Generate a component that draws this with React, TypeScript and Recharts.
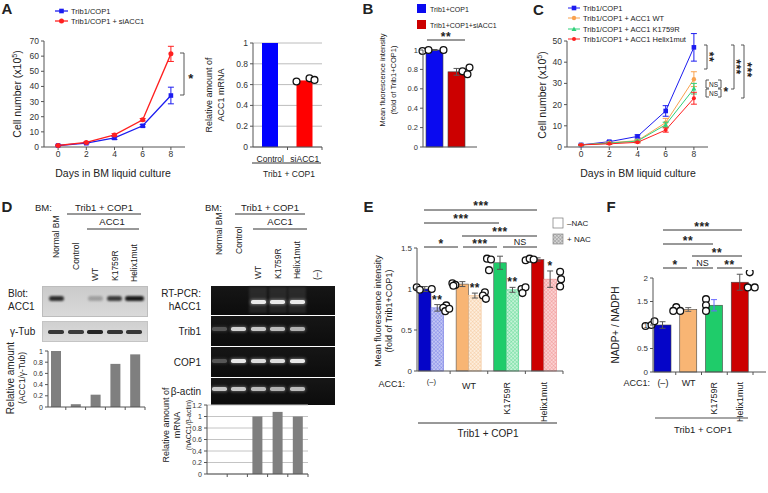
import React from 'react';
import { LineChart, Line, BarChart, Bar, XAxis, YAxis, CartesianGrid } from 'recharts';

const FONT = "'Liberation Sans', Arial, Helvetica, sans-serif";
const INK = '#222';
const AX = '#555';

// ---------------- Data ----------------
const days = [0, 2, 4, 6, 8];
const cellTicksA = [0, 10, 20, 30, 40, 50, 60, 70];
const aTrib = [1, 2.5, 6, 14, 34];
const aTribErr = [0.3, 0.4, 1.0, 0.8, 5.5];
const aSi = [1, 3, 8, 18, 61.5];
const aSiErr = [0.3, 0.4, 0.8, 0.8, 5];

const mrnaCats = ['Control', 'siACC1'];
const mrnaVals = [1, 0.64];
const mrnaReps = [[], [0.63, 0.66, 0.645]];
const fracTicks = [0, 0.2, 0.4, 0.6, 0.8, 1];

const bCats = ['Trib1+COP1', 'Trib1+COP1+siACC1'];
const bVals = [1, 0.775];
const bErr = [0.005, 0.035];
const bReps = [[0.99, 1.0, 1.0], [0.78, 0.82, 0.75]];

const cellTicksC = [0, 10, 20, 30, 40, 50];
const cTrib = [1, 2.5, 5, 17, 47];
const cTribErr = [0.3, 0.4, 0.7, 2.5, 6.5];
const cWT = [1, 2, 3, 11.5, 32];
const cWTErr = [0.2, 0.3, 0.5, 2, 3.5];
const cK = [1, 1.8, 2.8, 10.5, 27.5];
const cKErr = [0.2, 0.3, 0.4, 1.2, 2.5];
const cHelix = [1, 1.5, 2.2, 8, 23];
const cHelixErr = [0.2, 0.3, 0.3, 1, 2.8];

const blotLanes = ['Normal BM', 'Control', 'WT', 'K1759R', 'Helix1mut'];
const acc1Band = [0.85, 0, 0.25, 0.78, 0.95];
const tubBand = [0.8, 0.78, 0.9, 0.82, 0.8];
const acc1Ratio = [1, 0.05, 0.22, 0.77, 0.94];

const gelLanes = ['Normal BM', 'Control', 'WT', 'K1759R', 'Helix1mut', '(–)'];
const hAcc1Band = [0, 0, 0.95, 0.95, 0.95, 0];
const trib1Band = [0.3, 0.85, 0.8, 0.75, 0.7, 0];
const cop1Band = [0.3, 0.95, 0.9, 0.9, 0.95, 0];
const actinBand = [0.8, 0.8, 0.75, 0.7, 0.75, 0];
const mrnaRatio = [0, 0, 1.0, 1.08, 1.0];
const mrnaTicks = [0, 0.2, 0.4, 0.6, 0.8, 1, 1.2];

const accCats = ['(–)', 'WT', 'K1759R', 'Helix1mut'];
const eTicks = [0, 0.5, 1, 1.5];
const eMinus = [1.0, 1.06, 1.32, 1.36];
const eMinusErr = [0.03, 0.03, 0.08, 0.02];
const ePlus = [0.77, 0.92, 0.99, 1.12];
const ePlusErr = [0.04, 0.03, 0.03, 0.1];
const eMinusReps = [[1.02, 0.99, 1.0], [1.07, 1.05, 1.04], [1.37, 1.36, 1.23], [1.35, 1.37, 1.36]];
const ePlusReps = [[0.8, 0.77, 0.73, 0.76], [0.96, 0.92, 0.88], [1.0, 1.02, 0.95], [1.21, 1.12, 1.03]];
const ePlusSig = ['**', '**', '**', '*'];

const fTicks = [0, 0.5, 1, 1.5, 2];
const fVals = [1.0, 1.33, 1.42, 1.91];
const fErr = [0.07, 0.04, 0.12, 0.17];
const fReps = [[0.98, 1.0, 1.08], [1.38, 1.3, 1.3], [1.55, 1.42, 1.3], [2.12, 1.8, 1.8]];

// ---------------- Styling constants ----------------
const BLUE = '#1c1cf0';
const RED = '#ff2020';
const C_ORANGE = '#f9a24e';
const C_GREEN = '#2fd07a';
const SOLID = ['#0505c8', '#f8b574', '#1fcc6a', '#cc0000'];
const LIGHT = ['#c3c7f5', '#fdeedd', '#c4f3d6', '#fbd2d2'];
const MESH = ['#6d74e3', '#f3c08e', '#49d488', '#ec8585'];
const MRNA_FILL = ['#0000ff', '#ff0000'];
const B_FILL = ['#0a0af0', '#cc0000'];
const MRNA_DX = [[], [-8, 5, 10]];
const B_DX = [[-12, -6, 9], [6, 13, 11]];
const E_MINUS_DX = [[-8, -5, 7], [-10, -7, -9], [-13, -9, -11], [-12, -8, -4]];
const E_PLUS_DX = [[9, 6, 8, 12], [10, 8, 11], [9, 13, 10], [10, 11, 10]];
const F_DX = [[-17, -11, -8], [-12, -15, -8], [-8, -8, -8], [10, 8, 15]];
const F_ERR_COL = ['#555', '#666', '#6a6aff', '#555'];

// ---------------- Tables ----------------
const aTable = days.map((d, i) => ({ day: d, trib: aTrib[i], si: aSi[i] }));
const cTable = days.map((d, i) => ({ day: d, trib: cTrib[i], wt: cWT[i], k: cK[i], helix: cHelix[i] }));
const mrnaTable = mrnaCats.map((c, i) => ({ cat: c, idx: i, v: mrnaVals[i] }));
const bTable = bCats.map((c, i) => ({ cat: c, idx: i, v: bVals[i] }));
const blotTable = blotLanes.map((l, i) => ({ lane: l, idx: i, v: acc1Ratio[i] }));
const gelTable = blotLanes.map((l, i) => ({ lane: l, idx: i, v: mrnaRatio[i] }));
const eTable = accCats.map((c, i) => ({ cat: c, idx: i, minus: eMinus[i], plus: ePlus[i] }));
const fTable = accCats.map((c, i) => ({ cat: c, idx: i, v: fVals[i] }));

const tickStyle = (s: number) => ({ fontSize: s, fill: '#333', fontFamily: FONT });

// y-axis tick label drawn at the position the axis supplies
const yTick = (fs: number) => (p: any) => (
  <text x={p.x} y={p.y} fontSize={fs} textAnchor="end" dominantBaseline="central" fill="#333" fontFamily={FONT}>
    {String(p.payload.value)}
  </text>
);

// ---------------- Marks helpers ----------------
const ErrBar = ({ cx, top, e, color = '#555', cap = 3 }: any) =>
  e > 0.4 ? (
    <g stroke={color} strokeWidth={1}>
      <line x1={cx} x2={cx} y1={top - e} y2={top + e} />
      <line x1={cx - cap} x2={cx + cap} y1={top - e} y2={top - e} />
      <line x1={cx - cap} x2={cx + cap} y1={top + e} y2={top + e} />
    </g>
  ) : null;

const Circles = ({ cx, base, ppu, reps, dx }: any) => (
  <g>
    {reps.map((v: number, k: number) => (
      <circle key={k} cx={cx + (dx[k] || 0)} cy={base - v * ppu} r={3.4} fill="#fff" stroke="#111" strokeWidth={1.3} />
    ))}
  </g>
);

const makeDot = (kind: string, color: string, errs: number[], plotBottom: number, size: number) => (p: any) => {
  const { cx, cy, value, index } = p;
  if (cx == null || cy == null) return <g key={`d${index}`} />;
  const ppu = value ? (plotBottom - cy) / value : 0;
  const e = (errs[index] || 0) * ppu;
  const s = size;
  let m: any;
  if (kind === 'square') m = <rect x={cx - s / 2} y={cy - s / 2} width={s} height={s} fill={color} />;
  else if (kind === 'triangle')
    m = <polygon points={`${cx},${cy - s / 2 - 0.5} ${cx - s / 2 - 0.3},${cy + s / 2 - 0.3} ${cx + s / 2 + 0.3},${cy + s / 2 - 0.3}`} fill={color} />;
  else m = <circle cx={cx} cy={cy} r={s / 2} fill={color} />;
  return (
    <g key={`d${index}`}>
      <ErrBar cx={cx} top={cy} e={e} color={color} cap={3} />
      {m}
    </g>
  );
};

const simpleBarShape = (cfg: any) => (p: any) => {
  const { x, y, width, height, payload } = p;
  const i = payload.idx;
  const v = payload.v;
  const ppu = v ? height / v : 0;
  const base = y + height;
  const cx = x + width / 2;
  const e = cfg.errs ? cfg.errs[i] * ppu : 0;
  return (
    <g>
      <rect x={x} y={y} width={width} height={height} fill={cfg.fills[i]} stroke={cfg.stroke || 'none'} strokeWidth={cfg.stroke ? 0.6 : 0} />
      {cfg.errs && <ErrBar cx={cx} top={y} e={e} color={cfg.errColors ? cfg.errColors[i] : '#555'} cap={3} />}
      {cfg.reps && <Circles cx={cx} base={base} ppu={ppu} reps={cfg.reps[i]} dx={cfg.dx[i]} />}
    </g>
  );
};

const eMinusShape = (p: any) => {
  const { x, y, width, height, payload } = p;
  const i = payload.idx;
  const ppu = height / payload.minus;
  return (
    <g>
      <rect x={x} y={y} width={width} height={height} fill={SOLID[i]} stroke="#555" strokeWidth={0.6} />
      <ErrBar cx={x + width / 2} top={y} e={eMinusErr[i] * ppu} color="#555" cap={3} />
    </g>
  );
};

const ePlusShape = (p: any) => {
  const { x, y, width, height, payload } = p;
  const i = payload.idx;
  const ppu = height / payload.plus;
  const base = y + height;
  const cxP = x + width / 2;
  const cxM = cxP - width;
  const eP = ePlusErr[i] * ppu;
  const pid = `hatchE${i}`;
  return (
    <g>
      <defs>
        <pattern id={pid} width="2.6" height="2.6" patternUnits="userSpaceOnUse" patternTransform="rotate(45)">
          <rect width="2.6" height="2.6" fill={LIGHT[i]} />
          <line x1="0" y1="0" x2="0" y2="2.6" stroke={MESH[i]} strokeWidth="0.7" />
          <line x1="0" y1="0" x2="2.6" y2="0" stroke={MESH[i]} strokeWidth="0.7" />
        </pattern>
      </defs>
      <rect x={x} y={y} width={width} height={height} fill={`url(#${pid})`} stroke={MESH[i]} strokeWidth={0.6} />
      <ErrBar cx={cxP} top={y} e={eP} color="#555" cap={3} />
      <text x={cxP} y={y - eP - 1} fontSize={12} fontWeight="bold" textAnchor="middle" fill={INK} fontFamily={FONT} letterSpacing={0.5}>
        {ePlusSig[i]}
      </text>
      <Circles cx={cxM} base={base} ppu={ppu} reps={eMinusReps[i]} dx={E_MINUS_DX[i]} />
      <Circles cx={cxP} base={base} ppu={ppu} reps={ePlusReps[i]} dx={E_PLUS_DX[i]} />
    </g>
  );
};

// ---------------- X ticks ----------------
const boundaryTick = (band: number) => (p: any) => {
  const { x, y } = p;
  return <line x1={x + band / 2} x2={x + band / 2} y1={y} y2={y + 3} stroke={AX} />;
};

const labelTick = (band: number, dy: number, fs: number) => (p: any) => {
  const { x, y, payload } = p;
  return (
    <g>
      <line x1={x + band / 2} x2={x + band / 2} y1={y} y2={y + 3} stroke={AX} />
      <text x={x} y={y + dy} fontSize={fs} textAnchor="middle" dominantBaseline="central" fill={INK} fontFamily={FONT}>
        {payload.value}
      </text>
    </g>
  );
};

const accTick = (band: number, dSmall: number, dWT: number, dRot: number, fs: number, smallFs: number) => (p: any) => {
  const { x, y, payload, index } = p;
  const v = String(payload.value);
  const bx = x + band / 2;
  let label: any;
  if (index === 0)
    label = <text x={x} y={y + dSmall} fontSize={smallFs} textAnchor="middle" dominantBaseline="central" fill={INK} fontFamily={FONT}>{v}</text>;
  else if (index === 1)
    label = <text x={x} y={y + dWT} fontSize={fs} textAnchor="middle" dominantBaseline="central" fill={INK} fontFamily={FONT}>{v}</text>;
  else
    label = (
      <text x={x} y={y + dRot} fontSize={fs} textAnchor="end" dominantBaseline="central" fill={INK} fontFamily={FONT}
        transform={`rotate(-90 ${x} ${y + dRot})`}>{v}</text>
    );
  return (
    <g>
      <line x1={bx} x2={bx} y1={y} y2={y + 3} stroke={AX} />
      {label}
    </g>
  );
};

// ---------------- Charts ----------------
const ChartA1 = () => (
  <LineChart width={200} height={132} data={aTable} margin={{ top: 11, right: 15, bottom: 0, left: 0 }}>
    <XAxis dataKey="day" type="number" domain={[-1, 9]} ticks={[0, 2, 4, 6, 8]} interval={0} height={15} tickSize={3} tickMargin={1} tick={tickStyle(8.5)} stroke={AX} />
    <YAxis type="number" domain={[0, 70]} ticks={cellTicksA} interval={0} width={44} tickSize={3} tickMargin={2} tick={yTick(8.5)} stroke={AX} />
    <Line dataKey="trib" stroke={BLUE} strokeWidth={1.3} dot={makeDot('square', BLUE, aTribErr, 117, 4.6)} activeDot={false} isAnimationActive={false} />
    <Line dataKey="si" stroke={RED} strokeWidth={1.3} dot={makeDot('circle', RED, aSiErr, 117, 5)} activeDot={false} isAnimationActive={false} />
  </LineChart>
);

const ChartA2 = () => (
  <BarChart width={126} height={135} data={mrnaTable} margin={{ top: 13, right: 4, bottom: 0, left: 0 }} barSize={16}>
    <CartesianGrid vertical={false} stroke="#bcbcbc" />
    <XAxis dataKey="cat" height={18} tickLine={false} tickSize={0} tickMargin={0} tick={labelTick(34.5, 12, 8.5)} stroke={AX} interval={0} />
    <YAxis type="number" domain={[0, 1]} ticks={fracTicks} interval={0} width={53} tickSize={3} tickMargin={2} tick={yTick(8.5)} stroke={AX} />
    <Bar dataKey="v" isAnimationActive={false} shape={simpleBarShape({ fills: MRNA_FILL, reps: mrnaReps, dx: MRNA_DX })} />
  </BarChart>
);

const ChartB = () => (
  <BarChart width={140} height={127} data={bTable} margin={{ top: 20, right: 3, bottom: 0, left: 0 }} barSize={17}>
    <XAxis dataKey="cat" height={10} tick={false} tickLine={false} stroke={AX} padding={{ left: 0, right: 10 }} />
    <YAxis type="number" domain={[0, 1]} ticks={fracTicks} interval={0} width={83} tickSize={3} tickMargin={2} tick={yTick(7.5)} stroke={AX} />
    <Bar dataKey="v" isAnimationActive={false} shape={simpleBarShape({ fills: B_FILL, errs: bErr, reps: bReps, dx: B_DX, stroke: '#444' })} />
  </BarChart>
);

const ChartC = () => (
  <LineChart width={200} height={132} data={cTable} margin={{ top: 11, right: 12, bottom: 0, left: 0 }}>
    <XAxis dataKey="day" type="number" domain={[-1, 9]} ticks={[0, 2, 4, 6, 8]} interval={0} height={15} tickSize={3} tickMargin={1} tick={tickStyle(8.5)} stroke={AX} />
    <YAxis type="number" domain={[0, 50]} ticks={cellTicksC} interval={0} width={47} tickSize={3} tickMargin={2} tick={yTick(8.5)} stroke={AX} />
    <Line dataKey="trib" stroke={BLUE} strokeWidth={1} dot={makeDot('square', BLUE, cTribErr, 117, 4.6)} activeDot={false} isAnimationActive={false} />
    <Line dataKey="wt" stroke={C_ORANGE} strokeWidth={1} dot={makeDot('circle', C_ORANGE, cWTErr, 117, 4.4)} activeDot={false} isAnimationActive={false} />
    <Line dataKey="k" stroke={C_GREEN} strokeWidth={1} dot={makeDot('triangle', C_GREEN, cKErr, 117, 4.4)} activeDot={false} isAnimationActive={false} />
    <Line dataKey="helix" stroke={RED} strokeWidth={1} dot={makeDot('circle', RED, cHelixErr, 117, 4)} activeDot={false} isAnimationActive={false} />
  </LineChart>
);

const ChartDBlot = () => (
  <BarChart width={150} height={70} data={blotTable} margin={{ top: 6, right: 5, bottom: 0, left: 0 }} barSize={10}>
    <XAxis dataKey="lane" height={8} tickLine={false} tickSize={0} tickMargin={0} tick={boundaryTick(19.8)} stroke={AX} padding={{ left: -2, right: 0 }} interval={0} />
    <YAxis type="number" domain={[0, 1]} ticks={fracTicks} interval={0} width={48} tickSize={3} tickMargin={2} tick={yTick(7)} stroke={AX} />
    <Bar dataKey="v" fill="#7f7f7f" isAnimationActive={false} />
  </BarChart>
);

const ChartDGel = () => (
  <BarChart width={152} height={84} data={gelTable} margin={{ top: 7, right: 4, bottom: 0, left: 0 }} barSize={10}>
    <CartesianGrid vertical={false} stroke="#c4c4c4" />
    <XAxis dataKey="lane" height={8} tickLine={false} tickSize={0} tickMargin={0} tick={boundaryTick(20.2)} stroke={AX} interval={0} />
    <YAxis type="number" domain={[0, 1.2]} ticks={mrnaTicks} interval={0} width={47} tickSize={3} tickMargin={2} tick={yTick(7)} stroke={AX} />
    <Bar dataKey="v" fill="#7f7f7f" isAnimationActive={false} />
  </BarChart>
);

const ChartE = () => (
  <BarChart width={210} height={190} data={eTable} margin={{ top: 8, right: 2, bottom: 0, left: 0 }} barSize={12.5} barGap={0}>
    <XAxis dataKey="cat" height={59} tickLine={false} tickSize={0} tickMargin={0} tick={accTick(37.6, 10, 15, 11, 9, 7.5)} stroke={AX} padding={{ left: -4.5, right: 0 }} interval={0} />
    <YAxis type="number" domain={[0, 1.5]} ticks={eTicks} interval={0} width={62} tickSize={3} tickMargin={2} tick={yTick(8)} stroke={AX} />
    <Bar dataKey="minus" isAnimationActive={false} shape={eMinusShape} />
    <Bar dataKey="plus" isAnimationActive={false} shape={ePlusShape} />
  </BarChart>
);

const ChartF = () => (
  <BarChart width={170} height={160} data={fTable} margin={{ top: 8, right: 2, bottom: 0, left: 0 }} barSize={17}>
    <XAxis dataKey="cat" height={58} tickLine={false} tickSize={0} tickMargin={0} tick={accTick(25.75, 11, 11, 10, 9, 9)} stroke={AX} padding={{ left: -3, right: 13 }} interval={0} />
    <YAxis type="number" domain={[0, 2]} ticks={fTicks} interval={0} width={55} tickSize={3} tickMargin={2} tick={yTick(8)} stroke={AX} />
    <Bar dataKey="v" isAnimationActive={false} shape={simpleBarShape({ fills: SOLID, errs: fErr, errColors: F_ERR_COL, reps: fReps, dx: F_DX, stroke: '#444' })} />
  </BarChart>
);

// ---------------- Blot / gel images ----------------
const laneL = (i: number) => 56 + 19.6 * i;
const laneR = (i: number) => 219 + 19.6 * i;

const Band = ({ cx, cy, w, h, color, op, blur, glow }: any) =>
  op > 0 ? (
    <div style={{ position: 'absolute', left: cx - w / 2, top: cy - h / 2, width: w, height: h, background: color, opacity: op, borderRadius: h / 2, filter: `blur(${blur}px)`, boxShadow: glow }} />
  ) : null;

const gelRows = [
  { top: 286, h: 29, band: hAcc1Band, cy: 302 },
  { top: 316, h: 30, band: trib1Band, cy: 329 },
  { top: 347, h: 30, band: cop1Band, cy: 361 },
  { top: 378, h: 27, band: actinBand, cy: 389 },
];

const Blots = () => (
  <>
    <div style={{ position: 'absolute', left: 42, top: 286, width: 106, height: 31, background: 'linear-gradient(#cbcbcb,#d9d9d9)', border: '1px solid #bdbdbd', boxSizing: 'border-box' }} />
    {acc1Band.map((op, i) => (
      <Band key={'acc' + i} cx={laneL(i)} cy={298.5} w={i === 4 ? 19 : 15} h={5} color="#111" op={op} blur={0.8} />
    ))}
    <div style={{ position: 'absolute', left: 42, top: 321, width: 106, height: 21, background: 'linear-gradient(#d0d0d0,#dcdcdc)', border: '1px solid #c4c4c4', boxSizing: 'border-box' }} />
    {tubBand.map((op, i) => (
      <Band key={'tub' + i} cx={laneL(i)} cy={332} w={16} h={3.5} color="#111" op={op} blur={0.6} />
    ))}
    {gelRows.map((row, r) => (
      <div key={'row' + r} style={{ position: 'absolute', left: 211, top: row.top, width: 124, height: row.h, background: 'linear-gradient(#161616,#0c0c0c)' }} />
    ))}
    {hAcc1Band.map((op, i) =>
      op > 0 ? (
        <div key={'smear' + i} style={{ position: 'absolute', left: laneR(i) - 9, top: 287, width: 18, height: 26, background: 'linear-gradient(#2c2c2c,#222)', filter: 'blur(0.8px)' }} />
      ) : null
    )}
    {gelRows.map((row, r) =>
      row.band.map((op, i) => (
        <Band key={`g${r}-${i}`} cx={laneR(i)} cy={row.cy} w={15} h={3.6} color="#f4f4f4" op={op} blur={0.5} glow="0 0 3px 1px rgba(255,255,255,0.35)" />
      ))
    )}
  </>
);

// ---------------- Overlay text / annotations ----------------
const T = ({ x, y, s = 9, a = 'middle', r = 0, b = false, fill = INK, children }: any) => (
  <text x={x} y={y} fontSize={s} textAnchor={a} dominantBaseline="central" fontWeight={b ? 'bold' : 'normal'} fill={fill}
    transform={r ? `rotate(${r} ${x} ${y})` : undefined}>{children}</text>
);

const Stars = ({ x, y, t, s = 12, r = 0 }: any) => {
  const off = 0.22 * s;
  const px = r ? x - off : x;
  const py = r ? y : y + off;
  return (
    <text x={px} y={py} fontSize={s} textAnchor="middle" dominantBaseline="central" fontWeight="bold" fill={INK} letterSpacing={0.5}
      transform={r ? `rotate(${r} ${px} ${py})` : undefined}>{t}</text>
  );
};

const HL = ({ x1, x2, y, c = '#333', w = 1 }: any) => <line x1={x1} x2={x2} y1={y} y2={y} stroke={c} strokeWidth={w} />;
const VB = ({ x, y1, y2, d = -3 }: any) => <path d={`M${x + d},${y1}H${x}V${y2}H${x + d}`} fill="none" stroke="#444" strokeWidth={0.9} />;

const LANE_BOTTOM_L = [258, 270, 281, 281, 282];
const LANE_BOTTOM_R = [255, 254, 279, 279, 279, 280];

const Overlay = () => (
  <svg width={768} height={493} style={{ position: 'absolute', left: 0, top: 0, pointerEvents: 'none' }} fontFamily={FONT}>
    <defs>
      <pattern id="legHatch" width="2.5" height="2.5" patternUnits="userSpaceOnUse" patternTransform="rotate(45)">
        <rect width="2.5" height="2.5" fill="#d6d6d6" />
        <line x1="0" y1="0" x2="0" y2="2.5" stroke="#888" strokeWidth="0.8" />
        <line x1="0" y1="0" x2="2.5" y2="0" stroke="#888" strokeWidth="0.8" />
      </pattern>
    </defs>

    {/* Panel A */}
    <T x={7} y={8.5} s={15} b>A</T>
    <line x1={55} x2={68} y1={11} y2={11} stroke={BLUE} strokeWidth={1.3} />
    <rect x={59.2} y={8.7} width={4.6} height={4.6} fill={BLUE} />
    <T x={71} y={11} s={7.5} a="start">Trib1/COP1</T>
    <line x1={55} x2={68} y1={21} y2={21} stroke={RED} strokeWidth={1.3} />
    <circle cx={61.5} cy={21} r={2.5} fill={RED} />
    <T x={71} y={21} s={7.5} a="start">Trib1/COP1 + siACC1</T>
    <text x={17} y={94} fontSize={10.5} textAnchor="middle" dominantBaseline="central" fill={INK} transform="rotate(-90 17 94)">
      Cell number (x10<tspan dy={-3.5} fontSize={7}>5</tspan><tspan dy={3.5}>)</tspan>
    </text>
    <T x={113} y={173} s={10.5}>Days in BM liquid culture</T>
    <VB x={184} y1={53} y2={95} d={-4} />
    <Stars x={191} y={76} t="*" s={13} />
    <T x={209} y={95} s={9} r={-90}>Relative amount of</T>
    <T x={221} y={95} s={9} r={-90}>ACC1 mRNA</T>
    <HL x1={252} x2={321} y={163} />
    <T x={289} y={174} s={8.5}>Trib1 + COP1</T>

    {/* Panel B */}
    <T x={368} y={8.5} s={15} b>B</T>
    <rect x={417} y={4} width={9} height={9} fill={B_FILL[0]} />
    <T x={430} y={9} s={7} a="start">Trib1+COP1</T>
    <rect x={417} y={20} width={9} height={9} fill={B_FILL[1]} />
    <T x={430} y={25} s={7} a="start">Trib1+COP1+siACC1</T>
    <T x={382} y={80} s={7.5} r={-90}>Mean fluorescence intensity</T>
    <T x={393} y={80} s={7.5} r={-90}>(fold of Trib1+COP1)</T>
    <HL x1={427} x2={465} y={40} />
    <Stars x={446} y={34} t="**" s={12} />

    {/* Panel C */}
    <T x={538.5} y={9} s={15} b>C</T>
    <line x1={568} x2={580} y1={8} y2={8} stroke={BLUE} />
    <rect x={571.7} y={5.7} width={4.6} height={4.6} fill={BLUE} />
    <T x={583} y={8} s={7.5} a="start">Trib1/COP1</T>
    <line x1={568} x2={580} y1={18} y2={18} stroke={C_ORANGE} />
    <circle cx={574} cy={18} r={2.2} fill={C_ORANGE} />
    <T x={583} y={18} s={7.5} a="start">Trib1/COP1 + ACC1 WT</T>
    <line x1={568} x2={580} y1={29} y2={29} stroke={C_GREEN} />
    <polygon points="574,26.5 571.5,31 576.5,31" fill={C_GREEN} />
    <T x={583} y={29} s={7.5} a="start">Trib1/COP1 + ACC1 K1759R</T>
    <line x1={568} x2={580} y1={39} y2={39} stroke={RED} />
    <circle cx={574} cy={39} r={2} fill={RED} />
    <T x={583} y={39} s={7.5} a="start">Trib1/COP1 + ACC1 Helix1mut</T>
    <text x={542} y={95} fontSize={10.5} textAnchor="middle" dominantBaseline="central" fill={INK} transform="rotate(-90 542 95)">
      Cell number (x10<tspan dy={-3.5} fontSize={7}>5</tspan><tspan dy={3.5}>)</tspan>
    </text>
    <T x={638} y={173} s={10.5}>Days in BM liquid culture</T>
    <VB x={707} y1={45} y2={69} d={-3} />
    <Stars x={712} y={57} t="**" s={12} r={90} />
    <VB x={706} y1={80} y2={88} d={3} />
    <T x={713.5} y={84} s={6.5}>NS</T>
    <VB x={721} y1={80} y2={88} d={-3} />
    <VB x={706} y1={89} y2={97} d={3} />
    <T x={713.5} y={93} s={6.5}>NS</T>
    <VB x={721} y1={89} y2={97} d={-3} />
    <Stars x={726} y={89} t="*" s={12} />
    <VB x={734} y1={45} y2={89} d={-3} />
    <Stars x={739} y={67} t="***" s={12} r={90} />
    <VB x={744} y1={45} y2={98} d={-3} />
    <Stars x={750} y={70} t="***" s={12} r={90} />

    {/* Panel D */}
    <T x={7} y={206.5} s={15} b>D</T>
    <T x={35} y={207} s={9.5} a="start">BM:</T>
    <T x={104} y={207} s={9.5}>Trib1 + COP1</T>
    <HL x1={67} x2={141} y={214} />
    <T x={112} y={221} s={9.5}>ACC1</T>
    <HL x1={87} x2={139} y={229} />
    {blotLanes.map((l, i) => (
      <T key={'ll' + i} x={laneL(i)} y={LANE_BOTTOM_L[i]} s={8.5} a="start" r={-90}>{l}</T>
    ))}
    <T x={8} y={293} s={10} a="start">Blot:</T>
    <T x={8} y={306} s={10} a="start">ACC1</T>
    <T x={10} y={331} s={10} a="start">γ-Tub</T>
    <T x={10} y={378} s={10} r={-90}>Relative amount</T>
    <T x={22} y={378} s={8.5} r={-90}>(ACC1/γ-Tub)</T>

    <T x={205} y={207} s={9.5} a="start">BM:</T>
    <T x={270} y={207} s={9.5}>Trib1 + COP1</T>
    <HL x1={235} x2={305} y={214} />
    <T x={280} y={221} s={9.5}>ACC1</T>
    <HL x1={253} x2={307} y={229} />
    {gelLanes.map((l, i) => (
      <T key={'gl' + i} x={laneR(i)} y={LANE_BOTTOM_R[i]} s={8.5} a="start" r={-90}>{l}</T>
    ))}
    <T x={201} y={293} s={10} a="end">RT-PCR:</T>
    <T x={201} y={306} s={10} a="end">hACC1</T>
    <T x={201} y={331} s={10} a="end">Trib1</T>
    <T x={201} y={362} s={10} a="end">COP1</T>
    <T x={201} y={391} s={10} a="end">β-actin</T>
    <T x={166} y={425} s={9} r={-90}>Relative amount of</T>
    <T x={177} y={425} s={9} r={-90}>mRNA</T>
    <T x={188} y={425} s={7} r={-90}>(hACC1/β-actin)</T>

    {/* Panel E */}
    <T x={368.5} y={206.5} s={15} b>E</T>
    <T x={378} y={311} s={9} r={-90}>Mean fluorescence intensity</T>
    <T x={389} y={311} s={9} r={-90}>(fold of Trib1+COP1)</T>
    <HL x1={424} x2={537} y={210} />
    <Stars x={481} y={203} t="***" s={12} />
    <HL x1={424} x2={499} y={223} />
    <Stars x={461} y={216.5} t="***" s={12} />
    <HL x1={462} x2={537} y={236} />
    <Stars x={500} y={229.5} t="***" s={12} />
    <HL x1={424} x2={458} y={247} />
    <Stars x={441} y={241} t="*" s={12} />
    <HL x1={463} x2={497} y={247} />
    <Stars x={480} y={241} t="***" s={12} />
    <HL x1={503} x2={537} y={247} />
    <T x={520} y={242} s={9}>NS</T>
    <rect x={553} y={218} width={10} height={10} fill="#fff" stroke="#777" strokeWidth={0.7} />
    <T x={567} y={223} s={8} a="start">–NAC</T>
    <rect x={553} y={234} width={10} height={10} fill="url(#legHatch)" stroke="#888" strokeWidth={0.7} />
    <T x={567} y={239} s={8} a="start">+ NAC</T>
    <T x={405} y={384} s={9} a="end">ACC1:</T>
    <HL x1={418} x2={557} y={423} />
    <T x={488} y={433} s={10}>Trib1 + COP1</T>

    {/* Panel F */}
    <T x={611} y={206.5} s={15} b>F</T>
    <T x={615} y={325} s={10} r={-90}>NADP+ / NADPH</T>
    <HL x1={663} x2={742} y={230} />
    <Stars x={702} y={224} t="***" s={12} />
    <HL x1={663} x2={713} y={244} />
    <Stars x={688} y={238} t="**" s={12} />
    <HL x1={692} x2={742} y={256} />
    <Stars x={717} y={250} t="**" s={12} />
    <HL x1={663} x2={687} y={268} />
    <Stars x={675} y={262.5} t="*" s={12} />
    <HL x1={692} x2={713} y={268} />
    <T x={702.5} y={263} s={9}>NS</T>
    <HL x1={717} x2={742} y={268} />
    <Stars x={729.5} y={262.5} t="**" s={12} />
    <T x={650} y={383} s={9} a="end">ACC1:</T>
    <HL x1={655} x2={748} y={418} c="#888" w={1.5} />
    <T x={703} y={429} s={9.5}>Trib1 + COP1</T>
  </svg>
);

const Box = ({ x, y, children }: any) => <div style={{ position: 'absolute', left: x, top: y }}>{children}</div>;

export default function App() {
  return (
    <div style={{ position: 'absolute', left: 0, top: 0, width: 768, height: 493, background: '#fff', overflow: 'hidden', fontFamily: FONT }}>
      <Box x={0} y={30}><ChartA1 /></Box>
      <Box x={200} y={30}><ChartA2 /></Box>
      <Box x={340} y={30}><ChartB /></Box>
      <Box x={520} y={30}><ChartC /></Box>
      <Blots />
      <Box x={0} y={345}><ChartDBlot /></Box>
      <Box x={160} y={398}><ChartDGel /></Box>
      <Box x={355} y={240}><ChartE /></Box>
      <Box x={598} y={270}><ChartF /></Box>
      <Overlay />
    </div>
  );
}
